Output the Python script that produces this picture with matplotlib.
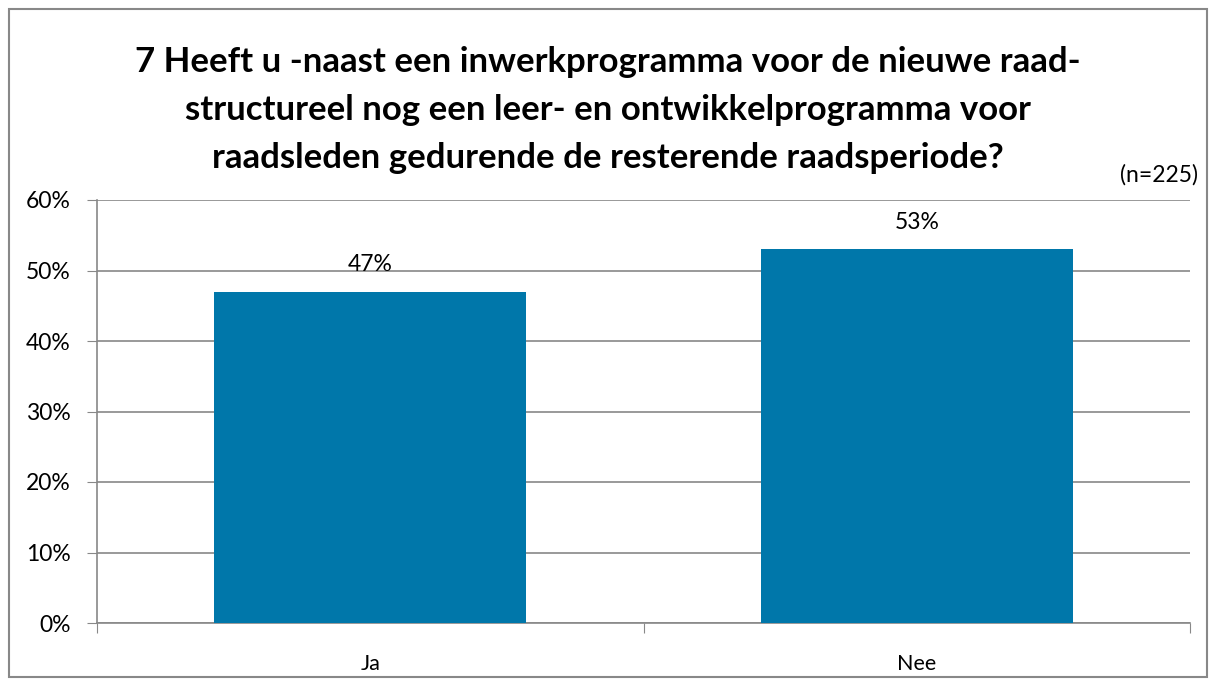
import matplotlib
matplotlib.use("Agg")
import matplotlib.pyplot as plt
from matplotlib.patches import Rectangle

categories = ["Ja", "Nee"]
values = [47, 53]
labels = ["47%", "53%"]
yticks = [0, 10, 20, 30, 40, 50, 60]
title = "7 Heeft u -naast een inwerkprogramma voor de nieuwe raad-\nstructureel nog een leer- en ontwikkelprogramma voor\nraadsleden gedurende de resterende raadsperiode?"

plt.rcParams['font.family'] = ['Lato', 'DejaVu Sans']

W, H = 1215, 682
fig = plt.figure(figsize=(W/100, H/100), dpi=100)
fig.patches.append(Rectangle((9/W, 1 - 677/H), (1207-9)/W, (677-9)/H, transform=fig.transFigure,
                             fill=False, edgecolor='#888888', linewidth=1.5))

ax = fig.add_axes([97/W, 1 - 623/H, (1190-97)/W, (623-200)/H])
x = [0.5, 1.5]
ax.bar(x, values, width=0.57, color='#0077AA', zorder=3)
ax.set_xlim(0, 2)
ax.set_ylim(0, 60)
ax.set_yticks(yticks)
ax.set_yticklabels([f"{t}%" for t in yticks], fontsize=16.5)
ax.yaxis.grid(True, color='#888888', linewidth=1.2, zorder=0)
ax.set_xticks([0, 1, 2])
ax.set_xticklabels([])
ax.set_xticks(x, minor=True)
ax.set_xticklabels(categories, minor=True, fontsize=15.5)
ax.tick_params(axis='x', which='minor', length=0, pad=22)
ax.tick_params(axis='x', which='major', length=7, color='#888888', direction='out')
ax.tick_params(axis='y', length=7, color='#888888', pad=12)
for s in ['top', 'right']:
    ax.spines[s].set_visible(False)
for s in ['left', 'bottom']:
    ax.spines[s].set_color('#888888')
    ax.spines[s].set_linewidth(1.2)

for xi, v, lab in zip(x, values, labels):
    ax.text(xi, v + 3.8, lab, ha='center', va='center', fontsize=16.5, zorder=4)

fig.text(0.5, 1 - 110/H, title, ha='center', va='center', fontsize=25, fontweight='bold',
         linespacing=1.6)
fig.text(1198/W, 1 - 175/H, "(n=225)", ha='right', va='center', fontsize=16.5)

fig.savefig("out.png", dpi=100)
